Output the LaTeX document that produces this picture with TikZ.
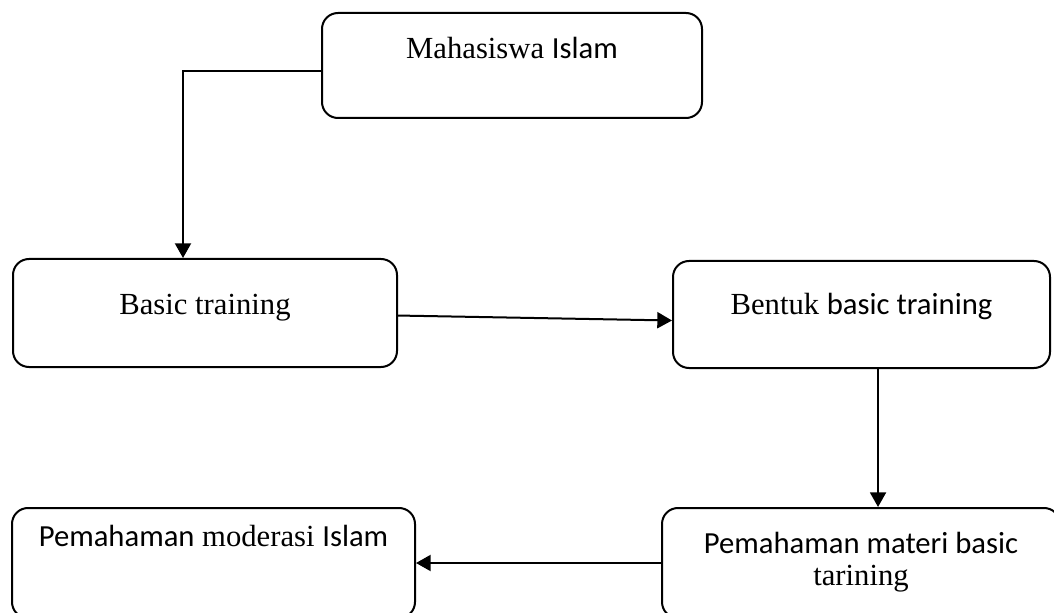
\documentclass[tikz,border=0pt]{standalone}
\usepackage{fontspec}
\setmainfont{Liberation Serif}
\newfontfamily\calibri{Carlito}
\usepackage{tikz}
\usetikzlibrary{arrows.meta}
\usetikzlibrary{positioning}
\tikzset{
    flowbox/.style={draw=black, line width=1.5pt, rounded corners=12pt,
        inner sep=0pt, align=center},
    flowarrow/.style={draw=black, line width=1.5pt,
        -{Triangle[width=12pt,length=11pt]}}
}

\begin{document}
\begin{tikzpicture}[x=0.75pt,y=-0.75pt,font=\fontsize{23}{24.5}\selectfont]
	\useasboundingbox (0,0) rectangle (1054,613);
	\node[flowbox, minimum width=285pt, minimum height=78.75pt, text height=34.5pt, text depth=44.25pt] (mhs) at (512,65.5) {Mahasiswa {\calibri Islam}};
	\node[flowbox, minimum width=288pt, minimum height=81pt, text height=42pt, text depth=39pt] (bt) at (205,313) {Basic training};
	\node[flowbox, minimum width=282.75pt, minimum height=80.25pt, text height=40.5pt, text depth=39.75pt] (bf) at (861.5,314.5) {Bentuk {\calibri basic training}};
	\node[flowbox, minimum width=302.25pt, minimum height=82.5pt, text height=28.5pt, text depth=54pt] (bl) at (213.5,563) {{\calibri Pemahaman} moderasi {\calibri Islam}};
	\node[flowbox, minimum width=298.5pt, minimum height=82.5pt, text height=33.75pt, text depth=48.75pt] (bm) at (861,563) {\begin{tabular}[t]{@{}c@{}}{\calibri Pemahaman materi basic}\\ tarining\end{tabular}};
	% connectors
	\draw[flowarrow] ([yshift=-4.1pt]mhs.west) -| ([xshift=-16.5pt]bt.north);
	\draw[flowarrow] ([yshift=-1.9pt]bt.east) -- ([yshift=-4.5pt]bf.west);
	\draw[flowarrow] ([xshift=12.4pt]bf.south) -- ([xshift=12.4pt]bf.south |- bm.north);
	\draw[flowarrow] (bm.west) -- (bl.east);
\end{tikzpicture}
\end{document}
